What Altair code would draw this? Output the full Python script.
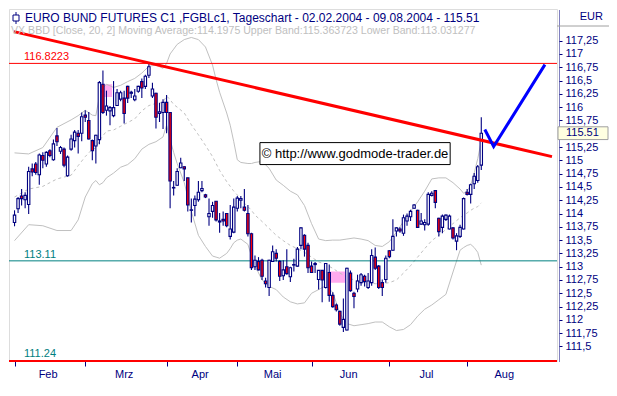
import altair as alt
import pandas as pd

# ---------------- data ----------------
opens = [
    113.83, 114.09, 114.33, 114.26, 114.17, 114.84, 114.93, 114.73, 115.09, 114.93,
    115.18, 115.01, 115.46, 115.17, 115.21, 114.71, 115.21, 115.37, 115.51, 115.51,
    115.85, 115.75, 115.37, 115.27, 115.39, 116.43, 115.94, 115.93, 115.84, 116.03,
    116.15, 116.17, 116.39, 116.26, 116.14, 116.30, 116.48, 116.39, 116.60, 116.21,
    116.26, 115.88, 115.90, 116.09, 115.90, 114.48, 114.53, 114.86, 114.88, 114.67,
    114.06, 114.15, 114.26, 114.43, 114.35, 113.94, 114.04, 114.23, 113.84, 113.89,
    114.00, 113.57, 113.65, 114.10, 114.25, 114.12, 114.00, 113.62, 113.00, 113.10,
    113.12, 112.73, 112.61, 113.10, 113.25, 113.10, 112.83, 113.00, 112.81, 113.03,
    113.01, 113.40, 113.59, 113.40, 113.01, 113.06, 112.76, 112.93, 112.61, 112.89,
    112.46, 112.28, 112.16, 111.86, 111.81, 112.88, 112.50, 112.58, 112.70, 112.82,
    112.61, 112.70, 113.18, 113.01, 112.70, 112.76, 113.30, 113.31, 113.67, 113.71,
    113.63, 113.86, 113.94, 114.10, 114.06, 113.80, 113.79, 113.80, 114.34, 114.43,
    113.91, 113.74, 113.89, 113.71, 113.73, 113.48, 113.57, 113.71, 114.40, 114.36,
    114.56, 114.62, 114.91,
]
highs = [
    114.06, 114.31, 114.46, 114.40, 114.88, 114.94, 114.97, 115.13, 115.15, 115.17,
    115.21, 115.39, 115.61, 115.27, 115.24, 115.09, 115.48, 115.57, 115.57, 115.90,
    115.94, 115.91, 115.39, 115.48, 116.49, 116.69, 116.31, 116.02, 116.49, 116.34,
    116.31, 116.31, 116.40, 116.31, 116.34, 116.40, 116.54, 116.61, 116.8223, 116.46,
    116.27, 116.08, 116.15, 116.23, 115.90, 114.61, 114.85, 115.05, 114.89, 114.67,
    114.28, 114.34, 114.61, 114.61, 114.37, 114.28, 114.22, 114.23, 114.01, 114.04,
    114.01, 114.16, 114.28, 114.33, 114.33, 114.46, 114.16, 113.64, 113.21, 113.18,
    113.15, 112.79, 113.13, 113.40, 113.33, 113.12, 113.12, 113.33, 113.00, 113.15,
    113.37, 113.74, 113.61, 113.45, 113.10, 113.09, 112.94, 112.94, 113.07, 113.04,
    112.52, 112.31, 112.17, 112.40, 112.98, 112.93, 112.53, 112.85, 112.88, 112.85,
    112.88, 113.33, 113.36, 113.03, 112.76, 113.21, 113.31, 113.89, 113.74, 113.74,
    113.98, 114.00, 114.07, 114.18, 114.07, 114.01, 113.89, 114.40, 114.42, 114.44,
    113.92, 113.98, 113.98, 113.98, 113.74, 113.63, 113.79, 114.30, 114.46, 114.56,
    114.76, 114.91, 115.81,
]
lows = [
    113.76, 114.01, 114.15, 114.10, 113.99, 114.70, 114.73, 114.54, 114.85, 114.88,
    115.06, 114.99, 115.27, 115.12, 114.87, 114.69, 115.18, 115.24, 115.13, 115.36,
    115.72, 115.39, 115.00, 114.94, 115.30, 115.87, 115.84, 115.66, 115.81, 116.02,
    116.11, 115.69, 116.08, 116.17, 116.11, 116.27, 116.17, 116.34, 116.55, 116.17,
    115.60, 115.72, 115.59, 115.51, 114.10, 114.34, 114.52, 114.85, 114.61, 114.04,
    113.83, 113.95, 114.22, 114.40, 114.29, 113.77, 113.92, 113.85, 113.64, 113.77,
    113.74, 113.51, 113.63, 114.04, 114.10, 114.04, 113.57, 112.94, 112.94, 112.93,
    112.75, 112.61, 112.45, 113.09, 113.10, 112.73, 112.75, 112.85, 112.71, 112.91,
    113.00, 113.33, 113.19, 112.88, 112.88, 112.88, 112.57, 112.33, 112.59, 112.34,
    112.23, 112.16, 111.89, 111.77, 111.80, 112.53, 112.22, 112.52, 112.64, 112.63,
    112.58, 112.64, 112.94, 112.58, 112.45, 112.70, 113.16, 113.30, 113.57, 113.64,
    113.58, 113.77, 113.86, 114.09, 113.73, 113.79, 113.68, 113.77, 114.32, 114.10,
    113.57, 113.63, 113.86, 113.70, 113.51, 113.31, 113.54, 113.70, 114.34, 114.19,
    114.46, 114.58, 114.82,
]
closes = [
    113.97, 114.28, 114.28, 114.34, 114.79, 114.78, 114.77, 115.10, 115.00, 115.15,
    115.09, 115.31, 115.35, 115.24, 114.91, 115.06, 115.40, 115.53, 115.45, 115.82,
    115.81, 115.40, 115.18, 115.47, 116.46, 115.90, 116.02, 115.99, 115.99, 116.27,
    116.27, 115.88, 116.17, 116.28, 116.21, 116.39, 116.36, 116.58, 116.76, 116.34,
    115.81, 115.91, 116.09, 115.90, 114.61, 114.49, 114.79, 114.95, 114.84, 114.16,
    114.07, 114.27, 114.40, 114.47, 114.31, 114.00, 114.15, 113.88, 113.86, 113.86,
    113.77, 113.71, 114.12, 114.29, 114.28, 114.06, 113.62, 112.98, 113.12, 112.94,
    112.82, 112.68, 113.12, 113.28, 113.16, 112.82, 112.94, 112.87, 112.98, 113.04,
    113.33, 113.73, 113.33, 112.98, 112.89, 113.04, 112.93, 112.75, 113.06, 112.46,
    112.25, 112.19, 111.92, 112.01, 112.97, 112.55, 112.44, 112.73, 112.85, 112.72,
    112.73, 113.21, 112.97, 112.61, 112.61, 113.16, 113.19, 113.57, 113.73, 113.67,
    113.92, 113.95, 114.04, 114.16, 113.74, 113.86, 113.83, 114.36, 114.38, 114.21,
    113.66, 113.95, 113.97, 113.95, 113.54, 113.58, 113.74, 114.28, 114.36, 114.54,
    114.70, 114.88, 115.51,
]

band_idx = [
    0, 4, 8, 12, 16, 18, 20, 22, 23, 24,
    25, 26, 28, 30, 32, 34, 36, 38, 40, 42,
    43, 44, 45, 46, 48, 50, 52, 54, 56, 57,
    58, 60, 61, 62, 63, 64, 66, 67, 68, 70,
    72, 74, 76, 78, 80, 82, 84, 86, 88, 90,
    92, 94, 96, 98, 100, 102, 104, 106, 108, 110,
    112, 114, 116, 118, 120, 122, 124, 126, 127, 128,
    129, 130, 131, 132,
]
band_upper = [
    115.14, 115.12, 115.24, 115.62, 115.76, 115.84, 115.94, 115.85, 115.84, 116.20,
    116.36, 116.43, 116.37, 116.41, 116.48, 116.54, 116.64, 116.77, 116.79, 116.73,
    116.82, 117.00, 117.09, 117.18, 117.27, 117.31, 117.27, 117.13, 116.79, 116.52,
    116.28, 115.89, 115.66, 115.35, 115.01, 114.96, 114.94, 114.94, 114.96, 114.98,
    114.85, 114.63, 114.53, 114.42, 114.35, 114.15, 113.81, 113.52, 113.49, 113.50,
    113.50, 113.52, 113.54, 113.52, 113.49, 113.40, 113.38, 113.47, 113.65, 113.85,
    114.04, 114.22, 114.42, 114.65, 114.67, 114.67, 114.58, 114.46, 114.38, 114.42,
    114.53, 114.76, 115.03, 115.36,
]
band_mid = [
    114.31, 114.46, 114.51, 114.65, 114.72, 114.90, 115.07, 115.21, 115.23, 115.37,
    115.46, 115.55, 115.57, 115.64, 115.71, 115.78, 115.93, 116.03, 116.07, 116.09,
    116.21, 116.14, 116.05, 116.00, 115.89, 115.67, 115.48, 115.28, 115.07, 114.94,
    114.81, 114.60, 114.51, 114.42, 114.35, 114.26, 114.13, 114.06, 113.97, 113.85,
    113.72, 113.59, 113.49, 113.40, 113.34, 113.27, 113.18, 113.09, 113.04, 112.97,
    112.88, 112.81, 112.75, 112.72, 112.70, 112.68, 112.68, 112.70, 112.75, 112.88,
    113.02, 113.18, 113.34, 113.49, 113.59, 113.70, 113.81, 113.92, 113.97, 114.01,
    114.06, 114.10, 114.13, 114.20,
]
band_lower = [
    113.49, 113.79, 113.77, 113.68, 113.68, 113.88, 114.31, 114.56, 114.62, 114.54,
    114.58, 114.67, 114.76, 114.87, 114.92, 115.03, 115.21, 115.30, 115.35, 115.44,
    115.66, 115.39, 115.15, 114.94, 114.58, 114.04, 113.59, 113.38, 113.20, 113.18,
    113.16, 113.25, 113.34, 113.45, 113.50, 113.52, 113.42, 113.20, 113.02, 112.75,
    112.63, 112.57, 112.43, 112.34, 112.30, 112.32, 112.50, 112.57, 112.64, 112.52,
    112.12, 111.93, 111.89, 111.91, 111.93, 111.96, 111.96, 111.87, 111.80, 111.82,
    111.91, 112.07, 112.20, 112.28, 112.38, 112.48, 112.90, 113.31, 113.36, 113.40,
    113.42, 113.36, 113.27, 113.03,
]

month_names = ["Feb", "Mrz", "Apr", "Mai", "Jun", "Jul", "Aug"]
month_start = [0, 20, 43, 63, 84, 106, 128]
month_center = [9.5, 31, 52.5, 73, 94.5, 116.5, 138.5]

y_ticks = [111.5, 111.75, 112, 112.25, 112.5, 112.75, 113, 113.25, 113.5, 113.75,
           114, 114.25, 114.5, 114.75, 115, 115.25, 115.75, 116, 116.25, 116.5,
           116.75, 117, 117.25]

level_values = [116.8223, 113.11]
level_labels = ["116.8223", "113.11", "111.24"]
label_values = [116.8223, 113.11, 111.24]
last_close = 115.51

trend_i = [-0.15, 152]
trend_p = [117.42, 115.07]
proj_i = [133, 135.5, 150]
proj_p = [115.58, 115.26, 116.80]

gap_i0 = [25.4, 88.8]
gap_i1 = [27.6, 93.5]
gap_p0 = [116.43, 112.91]
gap_p1 = [116.19, 112.70]

title1 = "EURO BUND FUTURES C1 ,FGBLc1, Tageschart - 02.02.2004 - 09.08.2004 - 115.51"
title2 = ("VX BBD [Close, 20, 2] Moving Average:114.1975 Upper Band:115.363723 "
          "Lower Band:113.031277")
copyright_text = "\u00a9 http://www.godmode-trader.de"

# ---------------- style ----------------
NAVY = "#000080"
RED = "#ff0000"
TEAL = "#008080"
BAND = "#c0c0c0"
FONT = "Liberation Sans"
W, H = 548, 352
XDOM = [-0.15, 152]
YDOM = [111.227, 117.845]

XS = alt.Scale(domain=XDOM, nice=False, zero=False)
YS = alt.Scale(domain=YDOM, nice=False, zero=False)
X_AXIS = alt.Axis(values=month_start, labels=False, ticks=True, tickColor=NAVY,
                  tickSize=5, domain=False, grid=False, title=None)
Y_AXIS = alt.Axis(orient="right", values=y_ticks, grid=False, title=None,
                  labelExpr="replace(toString(datum.value), '.', ',')",
                  labelColor=NAVY, labelFont=FONT, labelFontSize=11,
                  labelPadding=3, labelOverlap=False, tickColor=NAVY, tickSize=3,
                  domainColor=NAVY, domainDash=[1, 1], offset=2)


def X(f):
    return alt.X(f"{f}:Q", scale=XS, axis=X_AXIS)


def Y(f):
    return alt.Y(f"{f}:Q", scale=YS, axis=Y_AXIS)


one = pd.DataFrame({"k": [0]})

candles = pd.DataFrame({"i": list(range(len(closes))), "open": opens,
                        "high": highs, "low": lows, "close": closes})
bands = pd.DataFrame({"i": band_idx, "upper": band_upper, "mid": band_mid,
                      "lower": band_lower})
gaps = pd.DataFrame({"i0": gap_i0, "i1": gap_i1, "p0": gap_p0, "p1": gap_p1})
levels = pd.DataFrame({"p": level_values, "c": [RED, TEAL]})
labels = pd.DataFrame({"p": label_values, "t": level_labels, "c": [RED, TEAL, TEAL]})
trend = pd.DataFrame({"i": trend_i, "p": trend_p})
proj = pd.DataFrame({"i": proj_i, "p": proj_p})
months = pd.DataFrame({"c": month_center, "m": month_names})
box = pd.DataFrame({"x0": [69.4], "x1": [123.2], "y0": [114.92], "y1": [115.333],
                    "xc": [96.3], "yc": [115.125]})
last = pd.DataFrame({"p": [last_close]})

gap_layer = alt.Chart(gaps).mark_rect(color="#ffaaee").encode(
    x=X("i0"), x2="i1", y=Y("p0"), y2="p1")

upper_layer = alt.Chart(bands).mark_line(color=BAND, strokeWidth=1).encode(
    x=X("i"), y=Y("upper"))
lower_layer = alt.Chart(bands).mark_line(color=BAND, strokeWidth=1).encode(
    x=X("i"), y=Y("lower"))
mid_layer = alt.Chart(bands).mark_line(color=BAND, strokeWidth=1,
                                       strokeDash=[3, 3]).encode(
    x=X("i"), y=Y("mid"))

level_layer = alt.Chart(levels).mark_rule(strokeWidth=1).encode(
    y=Y("p"), color=alt.Color("c:N", scale=None))

wick_layer = alt.Chart(candles).mark_rule(color=NAVY, strokeWidth=1.1).encode(
    x=X("i"), y=Y("low"), y2="high")
body_layer = alt.Chart(candles).mark_bar(size=2.4, stroke=NAVY, strokeWidth=1.1).encode(
    x=X("i"), y=Y("open"), y2="close",
    fill=alt.condition("datum.close >= datum.open", alt.value("white"),
                       alt.value(RED)))

trend_layer = alt.Chart(trend).mark_line(color=RED, strokeWidth=3).encode(
    x=X("i"), y=Y("p"))
proj_layer = alt.Chart(proj).mark_line(color="#0000ff", strokeWidth=3).encode(
    x=X("i"), y=Y("p"))

box_layer = alt.Chart(box).mark_rect(fill="white", stroke="black",
                                     strokeWidth=1).encode(
    x=X("x0"), x2="x1", y=Y("y0"), y2="y1")
box_text = alt.Chart(box).mark_text(font=FONT, fontSize=13, color="black").encode(
    x=X("xc"), y=Y("yc"), text=alt.value(copyright_text))

label_layer = alt.Chart(labels).mark_text(font=FONT, fontSize=11, align="left",
                                          baseline="bottom", dy=-1).encode(
    x=alt.value(15), y=Y("p"), text="t:N", color=alt.Color("c:N", scale=None))

bottom_rule = alt.Chart(one).mark_rule(color=RED, strokeWidth=2).encode(
    y=alt.value(H))

t1 = alt.Chart(one).mark_text(font=FONT, fontSize=12, align="left",
                              baseline="middle", color=NAVY).encode(
    x=alt.value(16), y=alt.value(9), text=alt.value(title1))
t2 = alt.Chart(one).mark_text(font=FONT, fontSize=10.6, align="left",
                              baseline="middle", color=BAND).encode(
    x=alt.value(2), y=alt.value(22), text=alt.value(title2))
icon_box = alt.Chart(one).mark_rect(fill="white", stroke=NAVY, strokeWidth=1).encode(
    x=alt.value(4), x2=alt.value(10), y=alt.value(6), y2=alt.value(12))
icon_line = alt.Chart(one).mark_rule(color=NAVY, strokeWidth=1).encode(
    x=alt.value(7), y=alt.value(3), y2=alt.value(6))
icon_line2 = alt.Chart(one).mark_rule(color=NAVY, strokeWidth=1).encode(
    x=alt.value(7), y=alt.value(12), y2=alt.value(15))

month_layer = alt.Chart(months).mark_text(font=FONT, fontSize=11, color=NAVY,
                                          baseline="middle").encode(
    x=X("c"), y=alt.value(H + 14), text="m:N")

eur_line = alt.Chart(one).mark_rule(color="#a0a0a0", strokeWidth=1).encode(
    x=alt.value(W), x2=alt.value(W + 52), y=alt.value(17))
eur_text = alt.Chart(one).mark_text(font=FONT, fontSize=11, color=NAVY,
                                    align="right", baseline="middle").encode(
    x=alt.value(W + 46), y=alt.value(8), text=alt.value("EUR"))

last_box = alt.Chart(last).transform_calculate(
    b0="datum.p - 0.12", b1="datum.p + 0.12").mark_rect(
    fill="#ffffe1", stroke="#a0a0a0", strokeWidth=1).encode(
    x=alt.value(W + 1), x2=alt.value(W + 51), y=Y("b0"), y2="b1:Q")
last_text = alt.Chart(last).mark_text(font=FONT, fontSize=11, color=NAVY,
                                      align="left", baseline="middle").encode(
    x=alt.value(W + 9), y=Y("p"), text=alt.Text("p:Q", format=".2f"))

chart = alt.layer(
    gap_layer, upper_layer, lower_layer, mid_layer, level_layer,
    wick_layer, body_layer, trend_layer, proj_layer,
    box_layer, box_text, label_layer, bottom_rule,
    t1, t2, icon_box, icon_line, icon_line2, month_layer,
    eur_line, eur_text, last_box, last_text,
).properties(
    width=W, height=H,
    autosize=alt.AutoSizeParams(type="none"),
    padding={"left": 1, "top": 1, "right": 52, "bottom": 21},
    background="white",
).configure_view(stroke=RED, strokeWidth=1).configure(font=FONT)

chart.save("out.html", embed_options={"renderer": "svg", "actions": False})
